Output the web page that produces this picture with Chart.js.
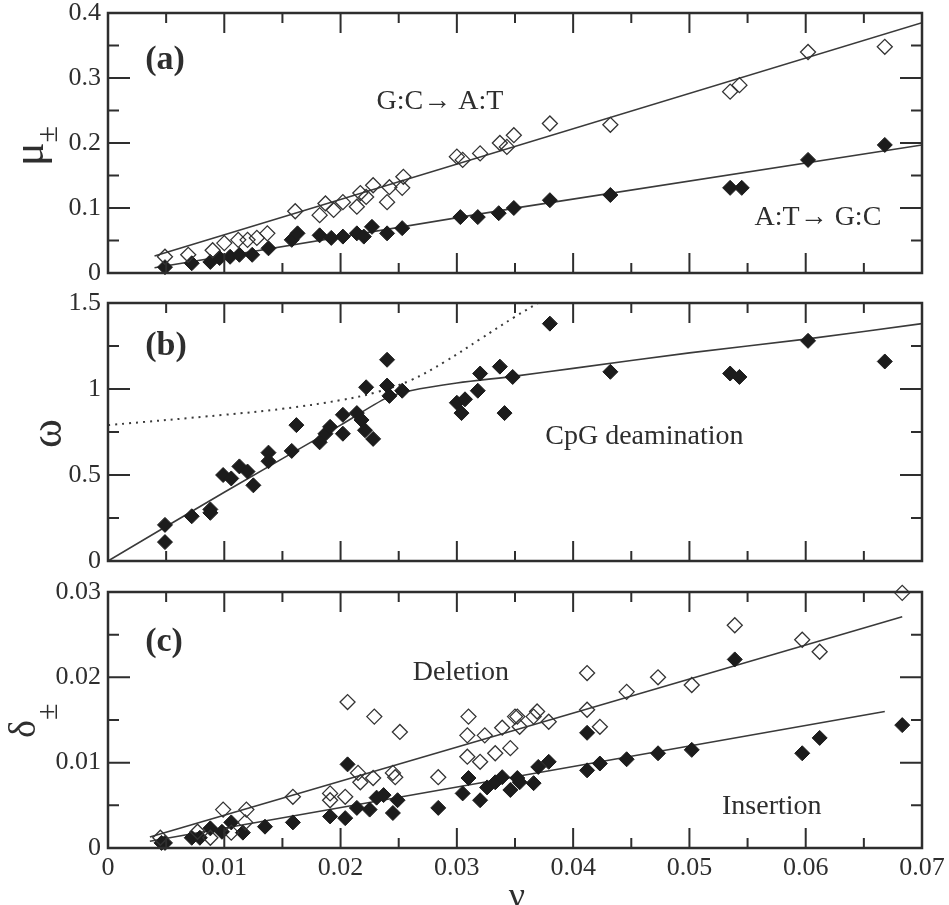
<!DOCTYPE html>
<html>
<head>
<meta charset="utf-8">
<script src="https://cdn.jsdelivr.net/npm/chart.js@4.4.1/dist/chart.umd.min.js"></script>
<style>
  body { margin: 0; background: #fff; }
  #wrap { position: relative; width: 949px; height: 905px; overflow: hidden; }
  canvas { position: absolute; left: 0; }
</style>
</head>
<body>
<div id="wrap">
  <canvas id="panelA" width="949" height="288" style="top:0px"></canvas>
  <canvas id="panelB" width="949" height="290" style="top:288px"></canvas>
  <canvas id="panelC" width="949" height="327" style="top:578px"></canvas>
</div>
<script>
// ---- axis ticks ----
const xTicks = [0, 0.01, 0.02, 0.03, 0.04, 0.05, 0.06, 0.07];
const xLabels = ['0', '0.01', '0.02', '0.03', '0.04', '0.05', '0.06', '0.07'];
const muTicks = [0, 0.1, 0.2, 0.3, 0.4];
const muLabels = ['0', '0.1', '0.2', '0.3', '0.4'];
const omegaTicks = [0, 0.5, 1, 1.5];
const omegaLabels = ['0', '0.5', '1', '1.5'];
const deltaTicks = [0, 0.01, 0.02, 0.03];
const deltaLabels = ['0', '0.01', '0.02', '0.03'];

// ---- (a) G:C -> A:T (open) ----
const gcNu = [0.0049, 0.0069, 0.0090, 0.0100, 0.0112, 0.0120, 0.0128, 0.0137, 0.0161, 0.0182, 0.0187, 0.0194,
  0.0202, 0.0214, 0.0217, 0.0222, 0.0228, 0.0240, 0.0242, 0.0253, 0.0254, 0.0300, 0.0305, 0.0320, 0.0337, 0.0343,
  0.0349, 0.0380, 0.0432, 0.0535, 0.0543, 0.0602, 0.0668];
const gcMu = [0.025, 0.028, 0.035, 0.046, 0.051, 0.051, 0.054, 0.061, 0.095, 0.089, 0.107, 0.097,
  0.109, 0.102, 0.123, 0.117, 0.135, 0.109, 0.132, 0.131, 0.148, 0.179, 0.174, 0.184, 0.200, 0.194,
  0.212, 0.230, 0.228, 0.279, 0.289, 0.340, 0.348];
// ---- (a) A:T -> G:C (filled) ----
const atNu = [0.0049, 0.0072, 0.0088, 0.0096, 0.0105, 0.0113, 0.0124, 0.0138, 0.0158, 0.0163, 0.0182, 0.0192,
  0.0202, 0.0214, 0.0220, 0.0227, 0.0240, 0.0253, 0.0303, 0.0318, 0.0336, 0.0349, 0.0380, 0.0432, 0.0535,
  0.0545, 0.0602, 0.0668];
const atMu = [0.009, 0.015, 0.017, 0.023, 0.025, 0.028, 0.028, 0.038, 0.051, 0.061, 0.058, 0.054,
  0.056, 0.061, 0.056, 0.071, 0.061, 0.069, 0.086, 0.086, 0.092, 0.100, 0.112, 0.120, 0.131,
  0.131, 0.174, 0.197];
// fit lines (a)
const gcFitNu = [0.004, 0.07];
const gcFitMu = [0.026, 0.385];
const atFitNu = [0.004, 0.0354, 0.07];
const atFitMu = [0.008, 0.101, 0.197];

// ---- (b) CpG deamination ----
const cpgNu = [0.0049, 0.0049, 0.0072, 0.0088, 0.0088, 0.0099, 0.0106, 0.0113, 0.0120, 0.0125, 0.0138, 0.0138,
  0.0158, 0.0162, 0.0182, 0.0187, 0.0191, 0.0202, 0.0202, 0.0214, 0.0218, 0.0221, 0.0222, 0.0228, 0.0240,
  0.0240, 0.0242, 0.0253, 0.0300, 0.0304, 0.0307, 0.0318, 0.0320, 0.0337, 0.0341, 0.0348, 0.0380, 0.0432,
  0.0535, 0.0543, 0.0602, 0.0668];
const cpgOmega = [0.21, 0.11, 0.26, 0.30, 0.28, 0.50, 0.48, 0.55, 0.52, 0.44, 0.63, 0.58,
  0.64, 0.79, 0.69, 0.74, 0.78, 0.74, 0.85, 0.86, 0.82, 0.76, 1.01, 0.71, 1.17,
  1.02, 0.96, 0.99, 0.92, 0.86, 0.94, 0.99, 1.09, 1.13, 0.86, 1.07, 1.38, 1.10,
  1.09, 1.07, 1.28, 1.16];
const cpgFitNu = [0, 0.01, 0.02, 0.024, 0.026, 0.03, 0.035, 0.04, 0.05, 0.06, 0.07];
const cpgFitOmega = [0, 0.40, 0.79, 0.95, 0.99, 1.035, 1.075, 1.12, 1.21, 1.29, 1.38];
const cpgDotNu = [0, 0.01, 0.015, 0.02, 0.023, 0.026, 0.029, 0.032, 0.035, 0.037];
const cpgDotOmega = [0.79, 0.85, 0.885, 0.935, 0.98, 1.05, 1.16, 1.29, 1.42, 1.50];

// ---- (c) Deletion (open) ----
const delNu = [0.0045, 0.0077, 0.0088, 0.0099, 0.0106, 0.0118, 0.0119, 0.0159, 0.0191, 0.0191, 0.0204, 0.0206,
  0.0215, 0.0217, 0.0228, 0.0229, 0.0245, 0.0247, 0.0251, 0.0284, 0.0309, 0.0310, 0.0309, 0.0320, 0.0324,
  0.0333, 0.0339, 0.0346, 0.0350, 0.0352, 0.0354, 0.0366, 0.0369, 0.0379, 0.0412, 0.0412, 0.0423, 0.0446,
  0.0473, 0.0502, 0.0539, 0.0597, 0.0612, 0.0683];
const delDelta = [0.0012, 0.0019, 0.0012, 0.0045, 0.0018, 0.0030, 0.0045, 0.0060, 0.0064, 0.0056, 0.0060, 0.0171,
  0.0088, 0.0077, 0.0082, 0.0154, 0.0088, 0.0083, 0.0136, 0.0083, 0.0132, 0.0154, 0.0107, 0.0101, 0.0132,
  0.0111, 0.0141, 0.0117, 0.0154, 0.0154, 0.0142, 0.0154, 0.0160, 0.0148, 0.0205, 0.0162, 0.0142, 0.0183,
  0.0200, 0.0191, 0.0261, 0.0244, 0.0230, 0.0299];
// ---- (c) Insertion (filled) ----
const insNu = [0.0046, 0.0049, 0.0072, 0.0079, 0.0088, 0.0098, 0.0106, 0.0116, 0.0135, 0.0159, 0.0191, 0.0204,
  0.0206, 0.0214, 0.0225, 0.0231, 0.0237, 0.0245, 0.0249, 0.0284, 0.0305, 0.0310, 0.0320, 0.0326, 0.0333,
  0.0339, 0.0346, 0.0352, 0.0354, 0.0366, 0.0370, 0.0379, 0.0412, 0.0412, 0.0423, 0.0446, 0.0473, 0.0502,
  0.0539, 0.0597, 0.0612, 0.0683];
const insDelta = [0.0006, 0.0006, 0.0012, 0.0012, 0.0023, 0.0019, 0.0030, 0.0018, 0.0025, 0.0030, 0.0037, 0.0035,
  0.0098, 0.0047, 0.0045, 0.0059, 0.0062, 0.0041, 0.0056, 0.0047, 0.0064, 0.0082, 0.0056, 0.0071, 0.0077,
  0.0083, 0.0068, 0.0082, 0.0077, 0.0076, 0.0095, 0.0101, 0.0135, 0.0091, 0.0099, 0.0104, 0.0111, 0.0115,
  0.0221, 0.0111, 0.0129, 0.0144];
const delFitNu = [0.0036, 0.0683];
const delFitDelta = [0.0013, 0.0271];
const insFitNu = [0.0036, 0.0668];
const insFitDelta = [0.0008, 0.0160];

const INK = '#2e2e2e';
const SERIF = "'Liberation Serif', 'DejaVu Serif', serif";

const pts = (xs, ys) => xs.map((v, i) => ({x: v, y: ys[i]}));
const minorOf = (t) => t.slice(1).map((v, i) => (v + t[i]) / 2);

const filled = (xs, ys) => ({data: pts(xs, ys), pointStyle: 'rectRot', pointRadius: 7.5,
  backgroundColor: '#1c1c1c', borderColor: '#1c1c1c', borderWidth: 1, clip: 12});
const open = (xs, ys) => ({data: pts(xs, ys), pointStyle: 'rectRot', pointRadius: 7.5,
  backgroundColor: 'rgba(0,0,0,0)', borderColor: '#333', borderWidth: 1.3, clip: 12});
const fit = (xs, ys, dash, tension) => ({data: pts(xs, ys), showLine: true, pointRadius: 0,
  borderColor: '#3a3a3a', borderWidth: dash ? 2 : 1.6, borderDash: dash || [], tension: tension || 0, fill: false});

// frame, inward ticks, notes and axis titles
const panelDecor = {
  id: 'panelDecor',
  afterDraw(chart, args, opts) {
    const {ctx, chartArea: a, scales: {x, y}} = chart;
    ctx.save();
    ctx.strokeStyle = INK;
    ctx.lineWidth = 2;
    ctx.beginPath();
    const xt = (vals, len) => vals.forEach(v => {
      const p = x.getPixelForValue(v);
      ctx.moveTo(p, a.bottom); ctx.lineTo(p, a.bottom - len);
      ctx.moveTo(p, a.top); ctx.lineTo(p, a.top + len);
    });
    const yt = (vals, len) => vals.forEach(v => {
      const p = y.getPixelForValue(v);
      ctx.moveTo(a.left, p); ctx.lineTo(a.left + len, p);
      ctx.moveTo(a.right, p); ctx.lineTo(a.right - len, p);
    });
    xt(xTicks, 20); xt(minorOf(xTicks), 10);
    yt(opts.yTicks, 22); yt(minorOf(opts.yTicks), 11);
    ctx.stroke();
    ctx.lineWidth = 2.5;
    ctx.strokeRect(a.left, a.top, a.right - a.left, a.bottom - a.top);

    ctx.fillStyle = INK;
    ctx.textAlign = 'left';
    ctx.textBaseline = 'middle';
    opts.notes.forEach(n => {
      ctx.font = n.font;
      ctx.fillText(n.text, x.getPixelForValue(n.x), y.getPixelForValue(n.y));
    });

    if (opts.nu) {
      ctx.font = '36px ' + SERIF;
      ctx.textAlign = 'center';
      ctx.textBaseline = 'alphabetic';
      ctx.fillText('ν', opts.nu.x, opts.nu.y);
    }

    const t = opts.title;
    ctx.translate(t.x, t.y);
    ctx.rotate(-Math.PI / 2);
    ctx.textAlign = 'left';
    ctx.textBaseline = 'alphabetic';
    ctx.font = t.size + 'px ' + SERIF;
    ctx.fillText(t.main, 0, 0);
    if (t.sub) {
      const w = ctx.measureText(t.main).width;
      ctx.font = t.subSize + 'px ' + SERIF;
      ctx.fillText(t.sub, w, t.drop);
    }
    ctx.restore();
  }
};

function makePanel(id, datasets, yMin, yMax, yTicks, yLabels, showX, pad, decor) {
  return new Chart(document.getElementById(id), {
    type: 'scatter',
    data: {datasets},
    options: {
      responsive: false,
      animation: false,
      devicePixelRatio: 1,
      layout: {padding: pad},
      plugins: {legend: {display: false}, tooltip: {enabled: false}, panelDecor: Object.assign({yTicks}, decor)},
      scales: {
        x: {
          type: 'linear', min: 0, max: 0.07, display: showX,
          grid: {display: false, drawTicks: false}, border: {display: false},
          afterBuildTicks: s => { s.ticks = xTicks.map(v => ({value: v})); },
          ticks: {callback: (v, i) => xLabels[i], font: {family: SERIF, size: 26}, color: INK,
            padding: 5, maxRotation: 0, autoSkip: false},
          afterFit: s => { s.height = showX ? 57 : 0; s.paddingLeft = 0; s.paddingRight = 0; }
        },
        y: {
          type: 'linear', min: yMin, max: yMax,
          grid: {display: false, drawTicks: false}, border: {display: false},
          afterBuildTicks: s => { s.ticks = yTicks.map(v => ({value: v})); },
          ticks: {callback: (v, i) => yLabels[i], font: {family: SERIF, size: 26}, color: INK, padding: 7},
          afterFit: s => { s.width = 108; s.paddingTop = 0; s.paddingBottom = 0; }
        }
      }
    },
    plugins: [panelDecor]
  });
}

const bold = 'bold 34px ' + SERIF;
const note = '28px ' + SERIF;

makePanel('panelA',
  [open(gcNu, gcMu), filled(atNu, atMu), fit(gcFitNu, gcFitMu), fit(atFitNu, atFitMu)],
  0, 0.4, muTicks, muLabels, false, {top: 13, right: 27, bottom: 15, left: 0},
  {notes: [
    {text: '(a)', x: 0.0032, y: 0.328, font: bold},
    {text: 'G:C\u2192 A:T', x: 0.0231, y: 0.263, font: note},
    {text: 'A:T\u2192 G:C', x: 0.0556, y: 0.0846, font: note}
  ], title: {main: 'μ', sub: '±', x: 43, y: 166, size: 44, subSize: 30, drop: 14}});

makePanel('panelB',
  [filled(cpgNu, cpgOmega), fit(cpgFitNu, cpgFitOmega, null, 0.3), fit(cpgDotNu, cpgDotOmega, [2, 5], 0.4)],
  0, 1.5, omegaTicks, omegaLabels, false, {top: 15, right: 27, bottom: 17, left: 0},
  {notes: [
    {text: '(b)', x: 0.0032, y: 1.25, font: bold},
    {text: 'CpG deamination', x: 0.0376, y: 0.724, font: note}
  ], title: {main: 'ω', x: 61, y: 160, size: 44}});

makePanel('panelC',
  [open(delNu, delDelta), filled(insNu, insDelta), fit(delFitNu, delFitDelta), fit(insFitNu, insFitDelta)],
  0, 0.03, deltaTicks, deltaLabels, true, {top: 14, right: 27, bottom: 0, left: 0},
  {notes: [
    {text: '(c)', x: 0.0032, y: 0.0241, font: bold},
    {text: 'Deletion', x: 0.0262, y: 0.0205, font: note},
    {text: 'Insertion', x: 0.0528, y: 0.0048, font: note}
  ], nu: {x: 517, y: 329},
  title: {main: 'δ', sub: '±', x: 35, y: 160, size: 38, subSize: 30, drop: 22}});
</script>
</body>
</html>
